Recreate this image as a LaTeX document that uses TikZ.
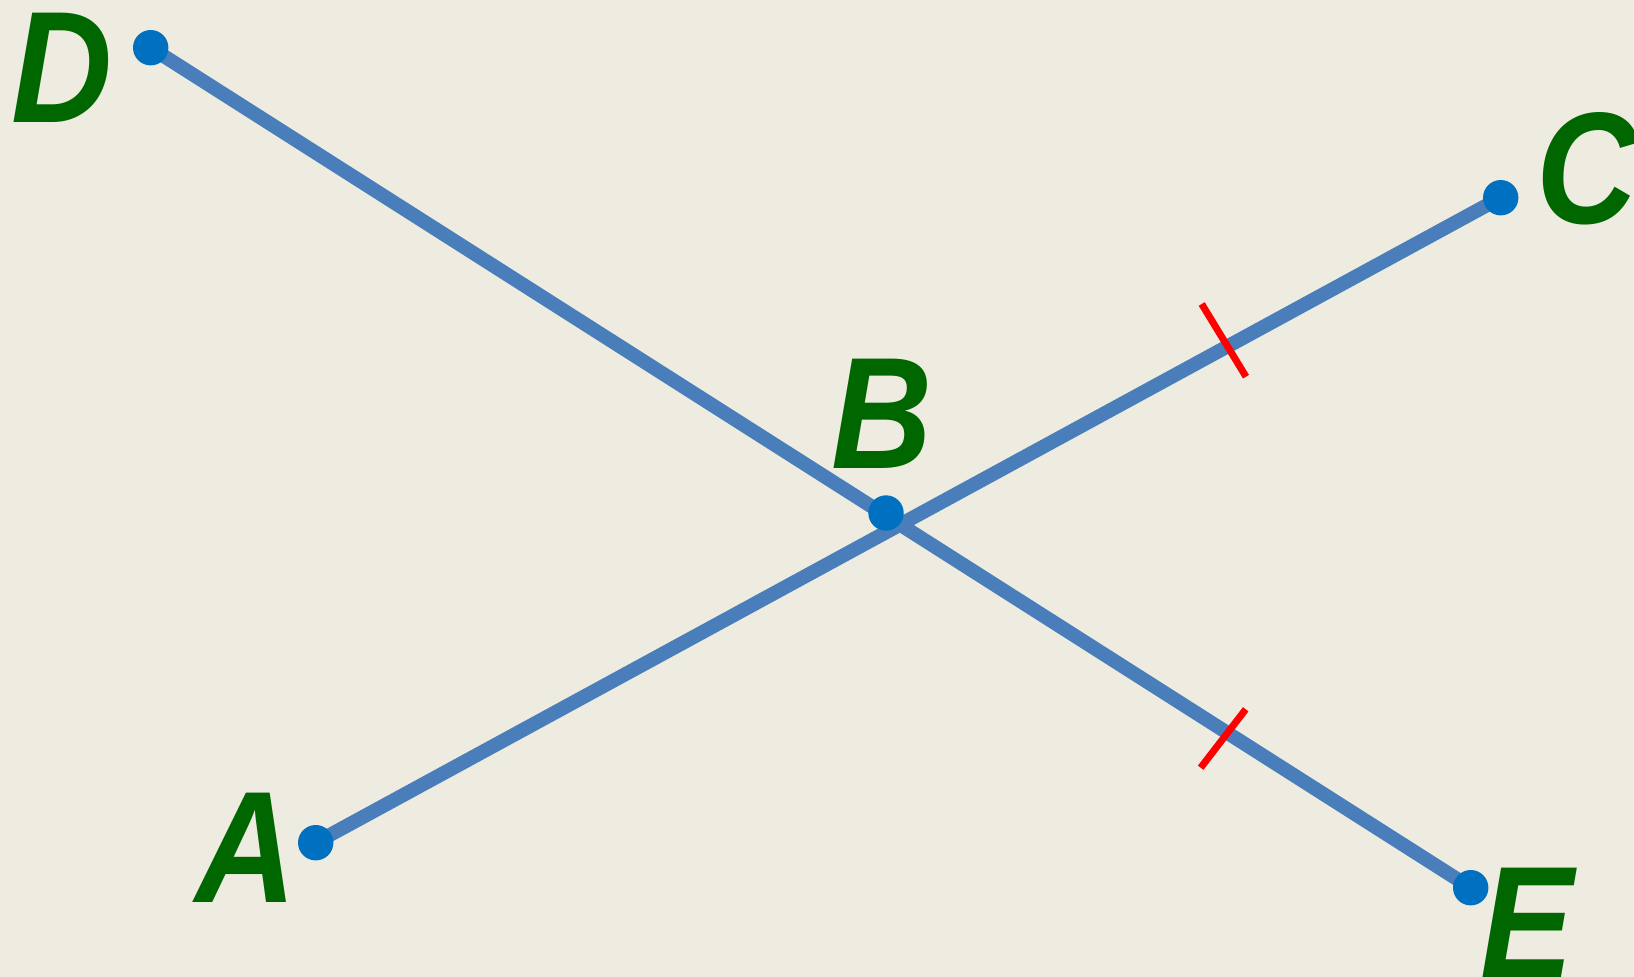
\documentclass[tikz,border=0pt]{standalone}
\usepackage{fontspec}
\setmainfont{Liberation Sans}[FakeStretch=0.88]
\definecolor{bgtan}{HTML}{EEECE1}
\definecolor{segblue}{HTML}{4A7EBB}
\definecolor{dotblue}{HTML}{0070C0}
\definecolor{lblgreen}{HTML}{006600}
\definecolor{tickred}{HTML}{FF0000}
\begin{document}
\begin{tikzpicture}[x=1pt,y=-1pt,
  seg/.style={line width=14pt, draw=segblue},
  dot/.style={circle, fill=dotblue, minimum size=35.4pt, inner sep=0pt},
  lbl/.style={text=lblgreen, font=\fontsize{159}{159}\selectfont\bfseries\itshape, inner sep=0pt, anchor=base},
  tickmark/.style={draw=tickred, line width=7pt}
]
\fill[bgtan] (0,0) rectangle (1634,977);
\useasboundingbox (0,0) rectangle (1634,977);
\clip (0,0) rectangle (1634,977);

\coordinate (pA) at (315.7,842.7);
\coordinate (pB) at (886,513);
\coordinate (pC) at (1500.7,197.7);
\coordinate (pD) at (150.7,47.7);
\coordinate (pE) at (1470.7,887.7);

\draw[seg] (pA) -- (pC);
\draw[seg] (pD) -- (pE);

\draw[tickmark] (1201.7,304) -- (1246,376.7);
\draw[tickmark] (1200.7,767.7) -- (1245.7,709.3);

\node[dot] (dA) at (pA) {};
\node[dot] (dB) at (pB) {};
\node[dot] (dC) at (pC) {};
\node[dot] (dD) at (pD) {};
\node[dot] (dE) at (pE) {};

\node[lbl] (lA) at (246,902) {A};
\node[lbl] (lB) at (882,468) {B};
\node[lbl] (lC) at (1587,223) {C};
\node[lbl] (lD) at (62,122) {D};
\node[lbl] (lE) at (1527,977) {E};
\end{tikzpicture}
\end{document}
